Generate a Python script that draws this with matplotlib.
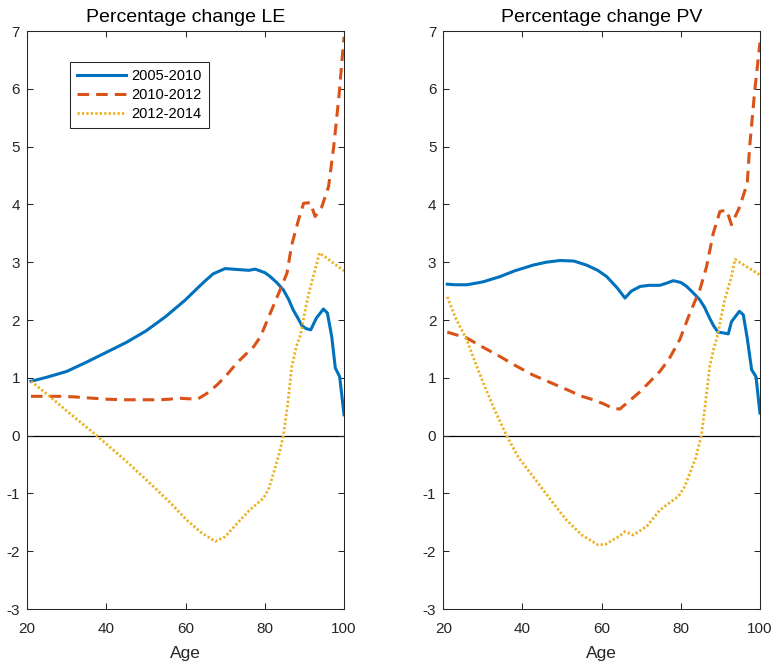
import matplotlib
matplotlib.use("Agg")
import matplotlib.pyplot as plt

plt.rcParams['font.family'] = ['Liberation Sans', 'DejaVu Sans']
plt.rcParams['axes.unicode_minus'] = False

# ---------------- data ----------------
series_labels = ['2005-2010', '2010-2012', '2012-2014']
titles = ['Percentage change LE', 'Percentage change PV']
xticks = [20, 40, 60, 80, 100]
yticks = [-3, -2, -1, 0, 1, 2, 3, 4, 5, 6, 7]

# LE panel
le_blue_age = [21, 25, 30, 35, 40, 45, 50, 55, 60, 63, 65, 67, 70, 73.8, 76, 77.6, 80, 81.4,
               83, 84.7, 86, 87.2, 88.3, 89.4, 90.5, 91.6, 93, 94.8, 95.8, 96.9, 97.8, 98.9, 100]
le_blue = [0.94, 1.01, 1.11, 1.27, 1.44, 1.61, 1.81, 2.06, 2.35, 2.55, 2.68, 2.8, 2.89, 2.87, 2.86,
           2.88, 2.82, 2.75, 2.65, 2.52, 2.36, 2.17, 2.04, 1.9, 1.85, 1.83, 2.03, 2.19, 2.12, 1.71,
           1.17, 1.02, 0.36]

le_orange_age = [21, 25, 28, 32, 36, 40, 45, 50, 53, 56, 58, 60, 63, 65.4, 68, 70.4, 73, 77.2, 78.9,
                 81.4, 83.5, 85.6, 86.8, 88.5, 89.8, 91.5, 92.7, 94.4, 96.1, 97.4, 98.7, 100]
le_orange = [0.68, 0.68, 0.68, 0.67, 0.65, 0.63, 0.62, 0.62, 0.62, 0.63, 0.65, 0.64, 0.63, 0.73, 0.88,
             1.05, 1.26, 1.54, 1.71, 2.12, 2.46, 2.81, 3.3, 3.73, 4.02, 4.03, 3.79, 3.96, 4.31, 5.0,
             5.86, 6.9]

le_yellow_age = [21, 25, 30, 37.6, 45, 51.9, 56, 60.3, 64, 67.5, 70, 73, 76, 79.7, 81, 82.2, 83.5,
                 84.7, 85.8, 86.8, 88, 89, 90, 91.1, 92.7, 93.8, 95.5, 97.4, 100]
le_yellow = [0.94, 0.72, 0.43, 0.0, -0.44, -0.88, -1.15, -1.46, -1.68, -1.83, -1.75, -1.52, -1.3,
             -1.08, -0.92, -0.65, -0.35, 0.0, 0.55, 1.19, 1.55, 1.74, 2.1, 2.46, 2.87, 3.16, 3.08,
             2.98, 2.85]

# PV panel
pv_blue_age = [21, 23, 26, 30, 34.3, 38, 42.7, 46, 49.5, 53, 56.2, 59, 61.3, 64, 65.9, 67.5, 69.7,
               72, 74.7, 76.5, 78.1, 80, 81.5, 83, 84.8, 86, 87.3, 88.3, 89.4, 90.5, 92, 92.8, 94.8,
               95.8, 96.8, 97.9, 99, 100]
pv_blue = [2.62, 2.61, 2.61, 2.66, 2.75, 2.85, 2.95, 3.0, 3.03, 3.02, 2.95, 2.86, 2.75, 2.55, 2.38,
           2.5, 2.58, 2.6, 2.6, 2.64, 2.68, 2.65, 2.58, 2.48, 2.35, 2.22, 2.03, 1.9, 1.79, 1.78, 1.76,
           1.97, 2.15, 2.09, 1.68, 1.14, 1.02, 0.39]

pv_orange_age = [21, 25.9, 30, 34.3, 38, 42.6, 47, 51.1, 55, 57.9, 60.5, 62.9, 64.6, 67, 69.7, 72,
                 74.7, 77, 79.8, 82.3, 84.8, 86.5, 88.2, 89.9, 91.6, 92.8, 94.9, 96.8, 97.4, 98.7, 100]
pv_orange = [1.79, 1.69, 1.53, 1.37, 1.22, 1.05, 0.92, 0.8, 0.68, 0.62, 0.55, 0.47, 0.46, 0.6, 0.76,
             0.92, 1.11, 1.32, 1.67, 2.12, 2.52, 2.92, 3.5, 3.88, 3.9, 3.65, 3.96, 4.37, 5.0, 5.98,
             6.8]

pv_yellow_age = [21, 23, 25.9, 28, 30.1, 33, 36, 39, 42.7, 47, 51.1, 55, 59.1, 61, 62.9, 64.5, 65.9,
                 68, 71.4, 74.7, 77, 79.4, 81, 82.3, 83.8, 85.2, 86.3, 87.3, 88.3, 89.2, 90.2, 91.1,
                 92.8, 93.7, 96, 100]
pv_yellow = [2.4, 2.05, 1.66, 1.28, 0.91, 0.44, 0.0, -0.38, -0.71, -1.1, -1.46, -1.72, -1.89, -1.88,
             -1.8, -1.74, -1.66, -1.72, -1.57, -1.29, -1.17, -1.05, -0.88, -0.65, -0.38, 0.0, 0.6,
             1.19, 1.5, 1.71, 2.05, 2.35, 2.75, 3.05, 2.95, 2.78]

# --------------- styling ---------------
colors = ['#0072BD', '#D95319', '#EDB120']
axis_col = '#262626'

fig = plt.figure(figsize=(7.78, 6.64), dpi=100)
ax1 = fig.add_axes([0.0347, 0.0828, 0.4075, 0.8705])
ax2 = fig.add_axes([0.5698, 0.0828, 0.4070, 0.8705])

panels = [
    (ax1, (le_blue_age, le_blue), (le_orange_age, le_orange), (le_yellow_age, le_yellow)),
    (ax2, (pv_blue_age, pv_blue), (pv_orange_age, pv_orange), (pv_yellow_age, pv_yellow)),
]

for i, (ax, b, o, y) in enumerate(panels):
    ax.axhline(0, color='k', lw=0.9, zorder=1)
    lb, = ax.plot(b[0], b[1], color=colors[0], lw=2.2, solid_joinstyle='round', zorder=3)
    lo, = ax.plot(o[0], o[1], color=colors[1], lw=2.2, dashes=(3.8, 2.3), zorder=3)
    ly, = ax.plot(y[0], y[1], color=colors[2], lw=2.0, dashes=(0.8, 0.8), zorder=3)
    ax.set_xlim(20, 100)
    ax.set_ylim(-3, 7)
    ax.set_xticks(xticks)
    ax.set_yticks(yticks)
    ax.tick_params(direction='in', top=True, right=True, length=4, width=0.75,
                   colors=axis_col, labelsize=11, labelcolor='#262626')
    ax.tick_params(axis='x', pad=9)
    ax.tick_params(axis='y', pad=5)
    for sp in ax.spines.values():
        sp.set_color(axis_col)
        sp.set_linewidth(0.75)
    ax.set_title(titles[i], fontsize=14, color='k', pad=6.5)
    ax.set_xlabel('Age', fontsize=12.5, color='#262626', labelpad=7.5)
    if i == 0:
        leg = ax.legend([lb, lo, ly], series_labels, loc='upper left',
                        bbox_to_anchor=(0.136, 0.947), borderaxespad=0, fontsize=10.5,
                        frameon=True, fancybox=False, framealpha=1, edgecolor='#262626',
                        handlelength=3.3, handletextpad=0.4, labelspacing=0.35,
                        borderpad=0.5)
        leg.get_frame().set_linewidth(0.75)

fig.savefig('out.png', dpi=100)
